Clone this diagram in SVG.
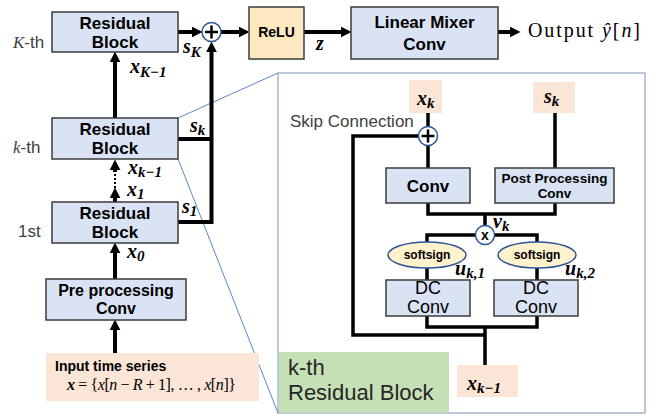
<svg xmlns="http://www.w3.org/2000/svg" width="663" height="416" viewBox="0 0 663 416">
<style>
.blk{fill:#DAE3F3;stroke:#3B3B3B;stroke-width:1.5}
.ln{fill:none;stroke:#000;stroke-width:4}
.lni{fill:none;stroke:#000;stroke-width:3.5}
.t{font-family:"Liberation Sans",Arial,sans-serif;font-weight:bold;fill:#000;text-anchor:middle}
.m{font-family:"Liberation Serif","DejaVu Serif",serif;font-weight:bold;font-style:italic;font-size:20px;fill:#000}
.sub{font-size:15px}
.lbl{font-family:"Liberation Sans",Arial,sans-serif;fill:#404040;font-size:17px}
.circ{fill:#fff;stroke:#2F5597;stroke-width:1.5}
.pl{stroke:#000;stroke-width:2.5}
.call{stroke:#5B87C8;stroke-width:1;fill:none}
.peach{fill:#FBE5D6}
.ell{fill:#FFF2CC;stroke:#2F5597;stroke-width:1.5}
</style>
<defs>
<marker id="ah" viewBox="0 0 10 10" markerWidth="11" markerHeight="11" refX="4" refY="5" orient="auto" markerUnits="userSpaceOnUse">
<path d="M0,0 L10,5 L0,10 z" fill="#000"/>
</marker>
</defs>

<!-- callout frame -->
<g id="frame">
<rect x="278" y="73" width="367" height="340" fill="#fff" stroke="#A6B7CC" stroke-width="1.5"/>
<line class="call" x1="178" y1="118" x2="278" y2="73"/>
<line class="call" x1="178" y1="159" x2="278" y2="413"/>
</g>

<g id="connectors">
<path class="ln" d="M115,118 V58" marker-end="url(#ah)"/>
<path class="ln" d="M115,202 V194" marker-end="url(#ah)"/>
<path d="M115,188 V172" stroke="#000" stroke-width="2" stroke-dasharray="2,2" fill="none"/>
<path class="ln" d="M115,172 V166" marker-end="url(#ah)"/>
<path class="ln" d="M115,279 V249" marker-end="url(#ah)"/>
<path class="ln" d="M115,353 V326" marker-end="url(#ah)"/>
<path class="ln" d="M178,32 H196" marker-end="url(#ah)"/>
<path class="ln" d="M221,32 H243" marker-end="url(#ah)"/>
<path class="ln" d="M304,32 H345" marker-end="url(#ah)"/>
<path class="ln" d="M498,32 H514" marker-end="url(#ah)"/>
<path class="ln" d="M178,222 H211.5 V48" marker-end="url(#ah)"/>
<path class="ln" d="M178,139 H211.5"/>
<!-- inner -->
<path class="lni" d="M428,113 V126.5 M428,145.5 V168"/>
<path class="lni" d="M418.5,136 H353 V335 H485"/>
<path class="lni" d="M555,113 V168"/>
<path class="lni" d="M428,203 V214 H555 V203 M485,214 V226"/>
<path class="lni" d="M427,255 V235 H475.5 M494.5,235 H537 V255"/>
<path class="lni" d="M427,268 V280 M537,268 V280"/>
<path class="lni" d="M427,316 V327 H537 V316 M485,327 V365"/>
</g>

<g id="sumTop">
<circle class="circ" cx="211.5" cy="32" r="9.5"/>
<path class="pl" d="M205,32 H218 M211.5,25.5 V38.5"/>
</g>

<g id="resK">
<rect class="blk" x="52" y="12" width="126" height="40"/>
<text class="t" font-size="17" x="115" y="29">Residual</text>
<text class="t" font-size="17" x="115" y="48">Block</text>
</g>
<g id="resk">
<rect class="blk" x="52" y="118" width="126" height="41"/>
<text class="t" font-size="17" x="115" y="135">Residual</text>
<text class="t" font-size="17" x="115" y="154">Block</text>
</g>
<g id="res1">
<rect class="blk" x="52" y="202" width="126" height="41"/>
<text class="t" font-size="17" x="115" y="219">Residual</text>
<text class="t" font-size="17" x="115" y="238">Block</text>
</g>
<g id="pre">
<rect class="blk" x="46" y="279" width="140" height="41"/>
<text class="t" font-size="16" x="116" y="296">Pre processing</text>
<text class="t" font-size="16" x="116" y="314">Conv</text>
</g>
<g id="input">
<rect class="peach" x="46" y="353" width="213" height="48"/>
<text x="55" y="371" font-family="Liberation Sans,Arial,sans-serif" font-weight="bold" font-size="14">Input time series</text>
<text x="67" y="390" font-family="Liberation Serif,serif" font-size="16" textLength="169" lengthAdjust="spacing"><tspan font-weight="bold" font-style="italic">x</tspan> = {<tspan font-style="italic">x</tspan>[<tspan font-style="italic">n</tspan> − <tspan font-style="italic">R</tspan> + 1], … , <tspan font-style="italic">x</tspan>[<tspan font-style="italic">n</tspan>]}</text>
</g>
<g id="relu">
<rect x="249" y="7" width="55" height="52" fill="#FCE9C2" stroke="#3B3B3B" stroke-width="1.5"/>
<text class="t" font-size="14" x="276.5" y="37">ReLU</text>
</g>
<g id="lmc">
<rect class="blk" x="351" y="7" width="147" height="52"/>
<text class="t" font-size="17" x="424.5" y="28">Linear Mixer</text>
<text class="t" font-size="17" x="424.5" y="50">Conv</text>
</g>
<g id="output">
<text x="528" y="37" font-family="Liberation Serif,serif" font-size="20" fill="#000" textLength="112" lengthAdjust="spacing">Output <tspan font-style="italic">ŷ</tspan>[<tspan font-style="italic">n</tspan>]</text>
</g>

<g id="leftLabels">
<text class="lbl" x="13" y="48"><tspan font-family="Liberation Serif,serif" font-style="italic">K</tspan>-th</text>
<text class="lbl" x="13" y="153"><tspan font-family="Liberation Serif,serif" font-style="italic">k</tspan>-th</text>
<text class="lbl" x="18" y="237">1st</text>
</g>
<g id="mathLabels">
<text class="m" x="130" y="73">x<tspan class="sub" dy="4">K−1</tspan></text>
<text class="m" x="183" y="53">s<tspan class="sub" dy="4">K</tspan></text>
<text class="m" x="190" y="132">s<tspan class="sub" dy="3">k</tspan></text>
<text class="m" x="182" y="213">s<tspan class="sub" dy="3">1</tspan></text>
<text class="m" x="128" y="174">x<tspan class="sub" dy="3">k−1</tspan></text>
<text class="m" x="127" y="196">x<tspan class="sub" dy="3">1</tspan></text>
<text class="m" x="127" y="258">x<tspan class="sub" dy="3">0</tspan></text>
<text class="m" x="316" y="50">z</text>
</g>

<!-- inner residual block -->
<g id="xk">
<rect class="peach" x="409" y="80" width="33" height="33"/>
<text class="m" x="417" y="105">x<tspan class="sub" dy="3">k</tspan></text>
</g>
<g id="sk">
<rect class="peach" x="533" y="82" width="42" height="31"/>
<text class="m" x="544" y="103">s<tspan class="sub" dy="3">k</tspan></text>
</g>
<g id="skipLabel">
<text class="lbl" x="290" y="127">Skip Connection</text>
</g>
<g id="sumIn">
<circle class="circ" cx="428" cy="136" r="9.5"/>
<path class="pl" d="M421.5,136 H434.5 M428,129.5 V142.5"/>
</g>
<g id="conv">
<rect class="blk" x="386" y="168" width="84" height="35"/>
<text class="t" font-size="17" x="428" y="192">Conv</text>
</g>
<g id="post">
<rect class="blk" x="495" y="168" width="119" height="35"/>
<text class="t" font-size="13.5" x="554.5" y="183">Post Processing</text>
<text class="t" font-size="13.5" x="554.5" y="198">Conv</text>
</g>
<g id="mul">
<circle class="circ" cx="485" cy="235" r="9.5"/>
<text class="t" font-size="14" x="485" y="240">x</text>
<text class="m" x="493" y="228">v<tspan class="sub" dy="3">k</tspan></text>
</g>
<g id="soft1">
<ellipse class="ell" cx="427" cy="255" rx="39" ry="13"/>
<text class="t" font-size="12" x="427" y="259">softsign</text>
</g>
<g id="soft2">
<ellipse class="ell" cx="537" cy="255" rx="39" ry="13"/>
<text class="t" font-size="12" x="537" y="259">softsign</text>
</g>
<g id="dc1">
<rect class="blk" x="386" y="280" width="84" height="36"/>
<text class="t" style="font-weight:normal" font-size="18" x="428" y="294">DC</text>
<text class="t" style="font-weight:normal" font-size="18" x="428" y="313">Conv</text>
</g>
<g id="dc2">
<rect class="blk" x="494" y="280" width="84" height="36"/>
<text class="t" style="font-weight:normal" font-size="18" x="536" y="294">DC</text>
<text class="t" style="font-weight:normal" font-size="18" x="536" y="313">Conv</text>
</g>
<g id="uLabels">
<text class="m" x="455" y="275">u<tspan class="sub" dy="3">k,1</tspan></text>
<text class="m" x="565" y="275">u<tspan class="sub" dy="3">k,2</tspan></text>
</g>
<g id="xkm1">
<rect class="peach" x="457" y="365" width="61" height="32"/>
<text class="m" x="467" y="390">x<tspan class="sub" dy="3">k−1</tspan></text>
</g>
<g id="kthLabel">
<rect x="279" y="352" width="170" height="60.5" fill="#C5E0B4"/>
<text x="288" y="375" font-family="Liberation Sans,Arial,sans-serif" font-size="22" fill="#262626">k-th</text>
<text x="288" y="400" font-family="Liberation Sans,Arial,sans-serif" font-size="22" fill="#262626">Residual Block</text>
</g>
</svg>
